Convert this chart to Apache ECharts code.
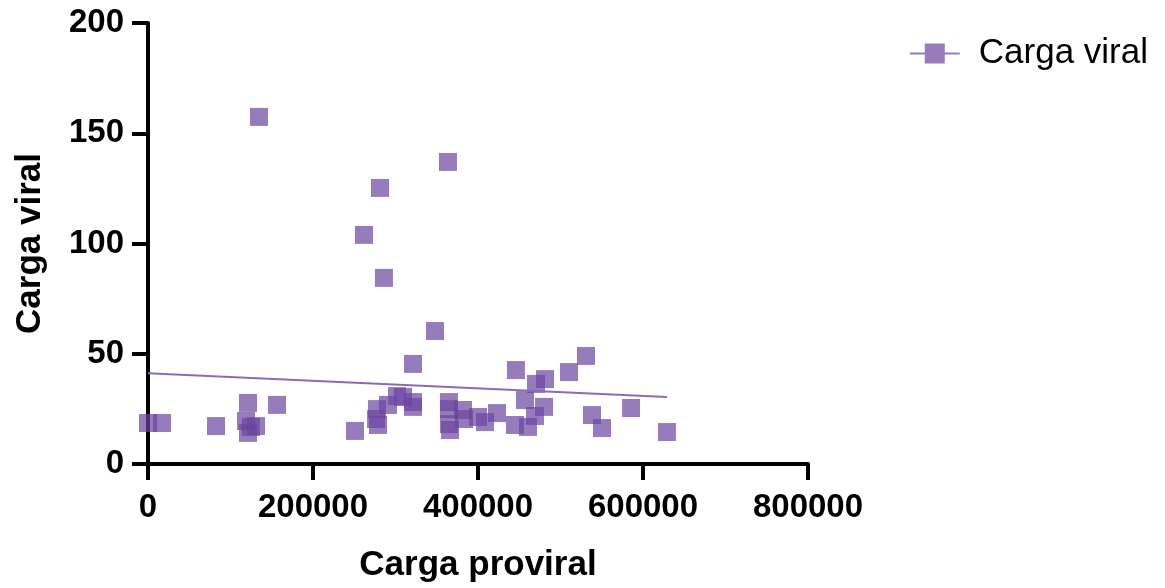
<!DOCTYPE html>
<html>
<head>
<meta charset="utf-8">
<script src="https://cdn.jsdelivr.net/npm/echarts@6/dist/echarts.min.js"></script>
<style>
  html, body { margin: 0; padding: 0; background: #fff; }
  #divChart { width: 1165px; height: 588px; }
</style>
</head>
<body>
<div id="divChart"></div>
<script>
// carga proviral (x) / carga viral (y)
var arrProviral = [
    0, 17000, 82400, 121200, 118800, 124800, 121200, 130900, 156400, 134500,
    250900, 261800, 281200, 286000, 277600, 276400, 278800, 290900, 301800, 309100,
    321200, 321200, 321200, 347900, 363600, 364800, 364800, 364800, 366100, 381800,
    383000, 400000, 408500, 423000, 444800, 446000, 460600, 457000, 469100, 470300,
    481200, 480000, 510300, 530900, 538200, 550300, 585500, 629000
];
var arrViral = [
    18.6, 18.6, 17.2, 27.7, 19.5, 16.8, 14.1, 17.2, 26.8, 157.4,
    15.0, 103.9, 125.2, 84.4, 24.9, 20.4, 17.7, 26.8, 30.8, 30.4,
    28.1, 25.9, 45.4, 60.3, 137.0, 28.1, 24.9, 18.1, 15.4, 24.5,
    20.4, 21.3, 19.0, 23.1, 17.7, 42.6, 16.8, 29.0, 21.8, 36.3,
    38.5, 25.9, 41.7, 49.0, 22.2, 16.3, 25.4, 14.5
];
// linha de tendencia (extremos)
var arrTrendX = [0, 629000];
var arrTrendY = [41.2, 30.4];

var strFont = 'Liberation Sans, Arial, Helvetica, sans-serif';
var strPurple = '#6b45a0';

var arrPoints = [];
for (var intI = 0; intI < arrProviral.length; intI++) {
    arrPoints.push([arrProviral[intI], arrViral[intI]]);
};
var arrTrend = [];
for (var intJ = 0; intJ < arrTrendX.length; intJ++) {
    arrTrend.push([arrTrendX[intJ], arrTrendY[intJ]]);
};

var chartMain = echarts.init(document.getElementById('divChart'));
var optMain = {
    animation: false,
    grid: { left: 148, right: 357, top: 23, bottom: 124 },
    legend: {
        data: ['Carga viral'],
        right: 12,
        top: 31,
        itemWidth: 50,
        itemHeight: 20,
        itemGap: 10,
        icon: 'path://M0,9L50,9L50,11L0,11Z M15,0L35,0L35,20L15,20Z',
        textStyle: { fontFamily: strFont, fontSize: 35, color: '#000', padding: [0, 0, 0, 14] }
    },
    xAxis: {
        type: 'value',
        min: 0,
        max: 800000,
        interval: 200000,
        name: 'Carga proviral',
        nameLocation: 'middle',
        nameGap: 84,
        nameTextStyle: { fontFamily: strFont, fontSize: 35, fontWeight: 'bold', color: '#000' },
        axisLine: { show: true, lineStyle: { color: '#000', width: 4 } },
        axisTick: { show: true, length: 16, lineStyle: { color: '#000', width: 4 } },
        axisLabel: {
            fontFamily: strFont, fontSize: 33, fontWeight: 'bold', color: '#000', margin: 27,
            formatter: function(val) { return String(val); }
        },
        splitLine: { show: false }
    },
    yAxis: {
        type: 'value',
        min: 0,
        max: 200,
        interval: 50,
        name: 'Carga viral',
        nameLocation: 'middle',
        nameGap: 100,
        nameTextStyle: { fontFamily: strFont, fontSize: 35, fontWeight: 'bold', color: '#000' },
        axisLine: { show: true, lineStyle: { color: '#000', width: 4 } },
        axisTick: { show: true, length: 16, lineStyle: { color: '#000', width: 4 } },
        axisLabel: { fontFamily: strFont, fontSize: 33, fontWeight: 'bold', color: '#000', margin: 24 },
        splitLine: { show: false }
    },
    series: [{
        name: 'Carga viral',
        type: 'scatter',
        symbol: 'rect',
        symbolSize: 18,
        itemStyle: { color: strPurple, opacity: 0.7 },
        data: arrPoints,
        z: 2
    }, {
        name: 'Tendencia',
        type: 'line',
        symbol: 'none',
        lineStyle: { color: '#8a6cb5', width: 2 },
        data: arrTrend,
        z: 3
    }]
};
chartMain.setOption(optMain);
</script>
</body>
</html>
